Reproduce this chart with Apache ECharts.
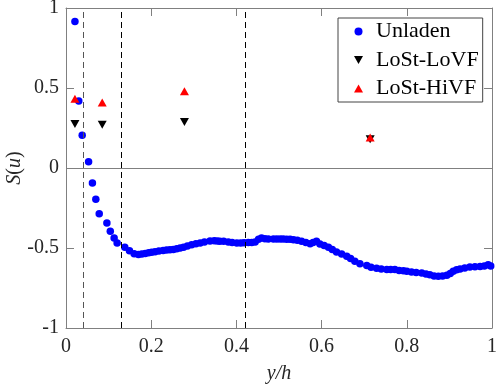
<!DOCTYPE html>
<html><head><meta charset="utf-8">
<script src="https://cdn.jsdelivr.net/npm/echarts@6/dist/echarts.min.js"></script>
<style>html,body{margin:0;padding:0;background:#fff}#c{width:498px;height:384px}</style>
</head><body><div id="c"></div>
<script>
const unladenX = [0.021,0.030,0.038,0.053,0.062,0.070,0.078,0.096,0.104,0.113,0.120,0.138,0.149,0.160,0.170,0.178,0.186,0.194,0.201,0.209,0.218,0.228,0.236,0.244,0.252,0.260,0.268,0.276,0.285,0.295,0.305,0.315,0.325,0.338,0.348,0.355,0.361,0.370,0.381,0.390,0.401,0.410,0.418,0.428,0.436,0.444,0.452,0.459,0.467,0.475,0.487,0.495,0.503,0.510,0.518,0.526,0.534,0.543,0.553,0.563,0.573,0.580,0.588,0.596,0.606,0.616,0.625,0.635,0.647,0.659,0.668,0.678,0.690,0.706,0.716,0.729,0.740,0.753,0.762,0.772,0.782,0.792,0.800,0.811,0.822,0.835,0.845,0.854,0.864,0.874,0.884,0.894,0.902,0.909,0.917,0.925,0.936,0.948,0.960,0.972,0.982,0.991,0.997];
const unladenY = [0.916,0.419,0.204,0.039,-0.094,-0.196,-0.286,-0.344,-0.396,-0.438,-0.469,-0.496,-0.517,-0.536,-0.540,-0.538,-0.534,-0.530,-0.527,-0.524,-0.518,-0.515,-0.512,-0.511,-0.510,-0.505,-0.500,-0.496,-0.488,-0.479,-0.474,-0.469,-0.462,-0.456,-0.455,-0.456,-0.458,-0.458,-0.463,-0.466,-0.469,-0.468,-0.467,-0.466,-0.465,-0.463,-0.445,-0.438,-0.442,-0.444,-0.444,-0.444,-0.444,-0.444,-0.446,-0.446,-0.448,-0.452,-0.458,-0.465,-0.473,-0.465,-0.458,-0.475,-0.485,-0.496,-0.510,-0.525,-0.538,-0.552,-0.566,-0.583,-0.598,-0.610,-0.620,-0.627,-0.632,-0.635,-0.635,-0.635,-0.640,-0.642,-0.645,-0.650,-0.653,-0.656,-0.662,-0.667,-0.675,-0.677,-0.675,-0.671,-0.660,-0.646,-0.636,-0.631,-0.625,-0.619,-0.617,-0.615,-0.612,-0.604,-0.612];
const loVFX = [0.021,0.085,0.278,0.714];
const loVFY = [0.275,0.270,0.288,0.180];
const hiVFX = [0.021,0.085,0.278,0.714];
const hiVFY = [0.433,0.410,0.479,0.191];
const dashedX = [0.042,0.127,0.425];
const xTicks = [0,0.2,0.4,0.6,0.8,1];
const yTicks = [-1,-0.5,0,0.5,1];

const zip = (a,b)=>a.map((v,i)=>[v,b[i]]);
const F = 'Liberation Serif';
const axisCol = '#808080';
const downTri = 'path://M0,0 L10,0 L5,8.66 Z';
const upTri = 'path://M5,0 L10,8.66 L0,8.66 Z';
const chart = echarts.init(document.getElementById('c'));
const baseX = {type:'value',min:0,max:1,interval:0.2,
  axisLine:{show:true,onZero:false,lineStyle:{color:axisCol,width:1}},
  axisTick:{show:true,inside:true,length:8,lineStyle:{color:axisCol}},
  splitLine:{show:false}};
const baseY = {type:'value',min:-1,max:1,interval:0.5,
  axisLine:{show:true,onZero:false,lineStyle:{color:axisCol,width:1}},
  axisTick:{show:true,inside:true,length:8,lineStyle:{color:axisCol}},
  splitLine:{show:false}};
chart.setOption({
  animation:false,
  backgroundColor:'#fff',
  grid:{left:66,right:6,top:8,bottom:56,containLabel:false,outerBoundsMode:'none'},
  xAxis:[
    Object.assign({},baseX,{position:'bottom',
      axisLabel:{margin:9,fontFamily:F,fontSize:20,color:'#262626',formatter:v=>String(v)},
      name:'y/h',nameLocation:'middle',nameGap:36,nameMoveOverlap:false,
      nameTextStyle:{fontFamily:F,fontSize:20,fontStyle:'italic',color:'#262626'}}),
    Object.assign({},baseX,{position:'top',axisLabel:{show:false}})
  ],
  yAxis:[
    Object.assign({},baseY,{position:'left',
      axisLabel:{margin:7,fontFamily:F,fontSize:20,color:'#262626',formatter:v=>String(v)},
      name:'{i|S}{n|(}{i|u}{n|)}',nameLocation:'middle',nameGap:41,nameRotate:90,nameMoveOverlap:false,
      nameTextStyle:{rich:{i:{fontFamily:F,fontSize:20,fontStyle:'italic',color:'#262626'},n:{fontFamily:F,fontSize:20,color:'#262626'}}}}),
    Object.assign({},baseY,{position:'right',axisLabel:{show:false}})
  ],
  legend:{
    left:338,top:18,orient:'vertical',
    backgroundColor:'#fff',borderColor:'#444',borderWidth:1,
    padding:[0,4,0,16],itemGap:1.5,itemWidth:9,itemHeight:8,
    textStyle:{fontFamily:F,fontSize:22,color:'#000',lineHeight:27,padding:[0,0,0,8]},
    data:['Unladen','LoSt-LoVF','LoSt-HiVF']
  },
  series:[
    {name:'lines',type:'line',data:[],silent:true,
      markLine:{silent:true,symbol:'none',label:{show:false},animation:false,
        data:[
          {yAxis:0,lineStyle:{color:axisCol,type:'solid',width:1}},
          {xAxis:dashedX[0],lineStyle:{color:'#555',type:[6,4],width:1}},
          {xAxis:dashedX[1],lineStyle:{color:'#000',type:[6,4],width:1}},
          {xAxis:dashedX[2],lineStyle:{color:'#000',type:[6,4],width:1}}
        ]}},
    {name:'Unladen',type:'scatter',symbol:'circle',symbolSize:7.5,
      itemStyle:{color:'#0000ff',opacity:1},data:zip(unladenX,unladenY)},
    {name:'LoSt-LoVF',type:'scatter',symbol:downTri,symbolSize:[9,8],
      itemStyle:{color:'#000',opacity:1},data:zip(loVFX,loVFY)},
    {name:'LoSt-HiVF',type:'scatter',symbol:upTri,symbolSize:[9,8],
      itemStyle:{color:'#ff0000',opacity:1},data:zip(hiVFX,hiVFY)}
  ]
});
</script></body></html>
